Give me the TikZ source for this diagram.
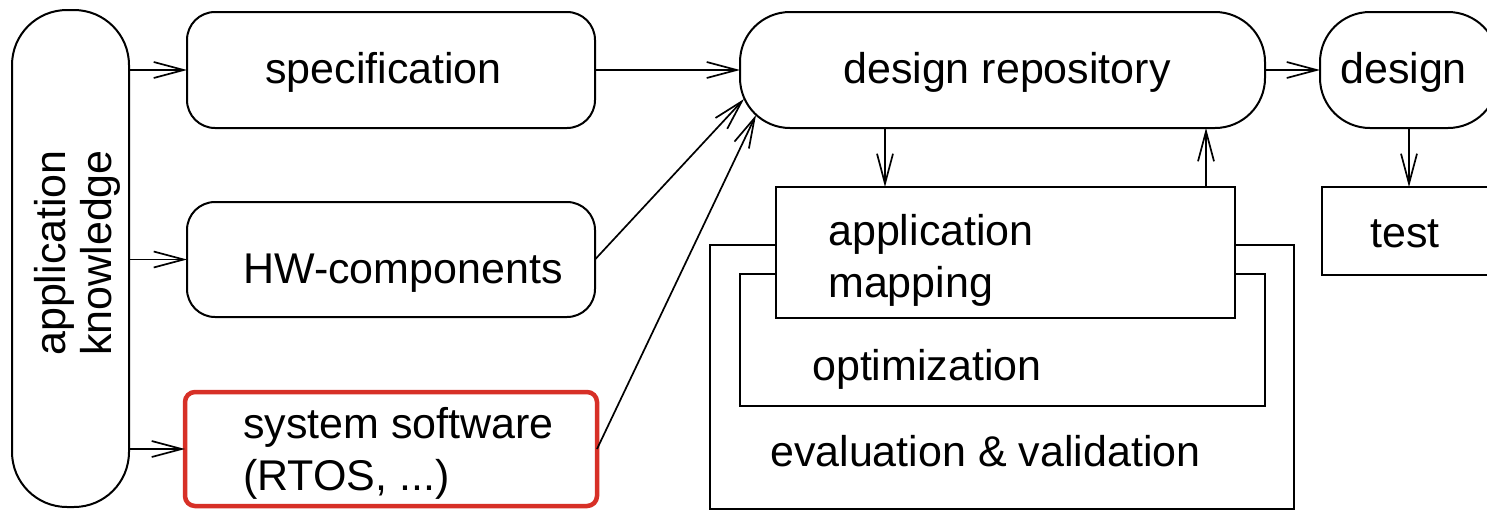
\documentclass[tikz,border=0pt]{standalone}
\usepackage{fontspec}
\setmainfont{Liberation Sans}
\usetikzlibrary{arrows.meta}
\begin{document}
\begin{tikzpicture}[x=1pt,y=-1pt,
  box/.style={draw, line width=2pt, inner sep=0pt, outer sep=0pt, fill=white},
  roundbox/.style={box, rounded corners=#1},
  lbl/.style={inner sep=0pt, anchor=base west, font=\fontsize{43}{52}\selectfont, align=left},
  arr/.style={line width=1.7pt, -{Straight Barb[length=30pt,width=16pt,line width=1.7pt]}}]
\useasboundingbox (0,0) rectangle (1487,509);
\clip (0,0) rectangle (1487,509);

% left column: knowledge and inputs
\node[roundbox=55pt, minimum width=117pt, minimum height=497pt] (ak) at (70.5,258.5) {};
\node[inner sep=0pt, rotate=90, align=center, font=\fontsize{43}{46}\selectfont] (aktext) at (77,253) {application\\knowledge};

\node[roundbox=28pt, minimum width=408pt, minimum height=116pt] (spec) at (391,70) {};
\node[lbl] (spectext) at (265,83) {specification};

\node[roundbox=28pt, minimum width=408pt, minimum height=115pt] (hw) at (391,259.5) {};
\node[lbl] (hwtext) at (243,283) {HW-components};

\node[box, draw={rgb,255:red,215;green,48;blue,39}, line width=4.5pt, rounded corners=10pt,
      minimum width=412pt, minimum height=114pt] (sys) at (391,449) {};
\node[lbl] (systext) at (243,490) {system software\\(RTOS, ...)};

% repository, design and test
\node[roundbox=50pt, minimum width=525pt, minimum height=116pt] (dr) at (1002.5,70) {};
\node[lbl] (drtext) at (843,83) {design repository};

\node[roundbox=50pt, minimum width=178pt, minimum height=116pt] (des) at (1409,70) {};
\node[lbl] (destext) at (1340,83) {design};

\node[box, minimum width=174pt, minimum height=88pt] (test) at (1409,231) {};
\node[lbl] (testtext) at (1370,247) {test};

% nested evaluation / optimization / mapping blocks
\node[box, minimum width=584pt, minimum height=264pt] (eval) at (1002,377) {};
\node[lbl] (evaltext) at (770,466) {evaluation \& validation};

\node[box, minimum width=525pt, minimum height=132pt] (opt) at (1002.5,340) {};
\node[lbl] (opttext) at (812,380) {optimization};

\node[box, minimum width=459pt, minimum height=131pt] (am) at (1005.5,252.5) {};
\node[lbl] (amtext) at (828,297) {application\\mapping};

% connectors
\draw[arr] (ak.east |- spec.west) -- (spec.west);
\draw[arr] (ak.east |- hw.west) -- (hw.west);
\draw[arr] (ak.east |- sys.west) -- (sys.west);
\draw[arr] (spec.east) -- (dr.west);
\draw[arr] (hw.east) -- ([xshift=4pt,yshift=-29pt]dr.west);
\draw[arr] (sys.east) -- ([xshift=16pt,yshift=-45pt]dr.west);
\draw[arr] ([xshift=-120.5pt]am.north |- dr.south) -- ([xshift=-120.5pt]am.north);
\draw[arr] ([xshift=200.5pt]am.north) -- ([xshift=200.5pt]am.north |- dr.south);
\draw[arr] (dr.east) -- (des.west);
\draw[arr] (des.south) -- (test.north);
\end{tikzpicture}
\end{document}
